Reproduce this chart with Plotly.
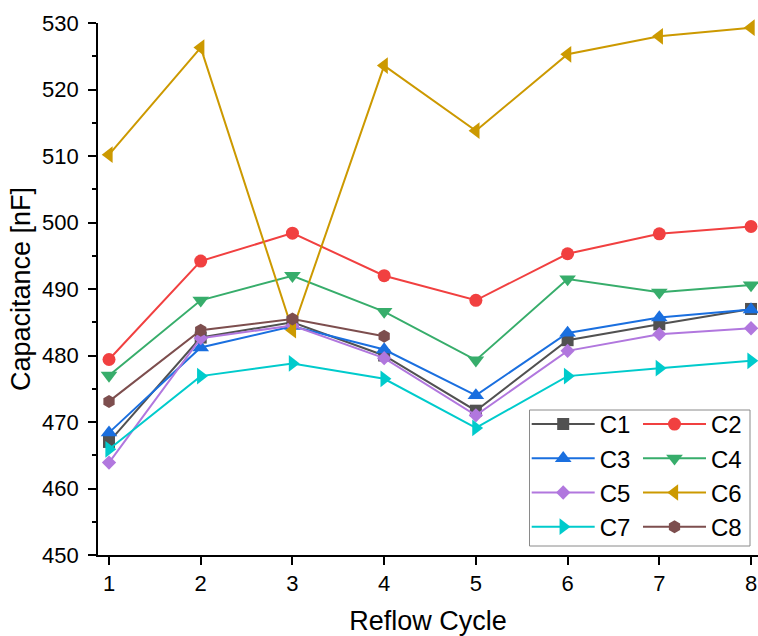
import plotly.graph_objects as go

cycles = [1, 2, 3, 4, 5, 6, 7, 8]
C1 = [467.0, 482.7, 485.0, 480.0, 471.7, 482.3, 484.7, 487.0]
C2 = [479.4, 494.2, 498.4, 492.0, 488.3, 495.3, 498.3, 499.4]
C3 = [468.4, 481.2, 484.4, 480.9, 474.0, 483.4, 485.7, 486.9]
C4 = [477.0, 488.3, 492.0, 486.6, 479.3, 491.5, 489.5, 490.6]
C5 = [463.9, 482.6, 484.5, 479.6, 471.0, 480.7, 483.2, 484.1]
C6 = [510.2, 526.3, 483.8, 523.6, 513.8, 525.3, 528.0, 529.3]
C7 = [465.9, 476.9, 478.8, 476.5, 469.1, 476.9, 478.1, 479.2]
C8 = [473.1, 483.8, 485.5, 482.9]
cycles_c8 = [1, 2, 3, 4]

series = [
    ("C1", cycles, C1, "#515151", "square", 12, "legend"),
    ("C2", cycles, C2, "#F14040", "circle", 13, "legend2"),
    ("C3", cycles, C3, "#1A6FDF", "triangle-up", 14.5, "legend"),
    ("C4", cycles, C4, "#37AD6B", "triangle-down", 14.5, "legend2"),
    ("C5", cycles, C5, "#B177DE", "diamond", 11, "legend"),
    ("C6", cycles, C6, "#CC9900", "triangle-left", 14.5, "legend2"),
    ("C7", cycles, C7, "#00CBCC", "triangle-right", 14.5, "legend"),
    ("C8", cycles_c8, C8, "#7D4E4E", "hexagon", 13, "legend2"),
]

fig = go.Figure()
for name, xs, ys, color, sym, msize, leg in series:
    fig.add_trace(go.Scatter(
        x=xs, y=ys, name=name, mode="lines+markers",
        line=dict(color=color, width=2),
        marker=dict(symbol=sym, size=msize, color=color, line=dict(width=0)),
        cliponaxis=False, legend=leg,
    ))

W, H = 758, 636
L, R, T, B = 98, 0, 23, 81
pw, ph = W - L - R, H - T - B

def px(xp):
    return (xp - L) / pw

def py(yp):
    return (H - B - yp) / ph

font = "Liberation Sans, Arial, sans-serif"
legend_common = dict(
    orientation="v", bgcolor="rgba(0,0,0,0)", borderwidth=0,
    font=dict(family=font, size=24, color="black"),
    xanchor="left", yanchor="top", tracegroupgap=0, itemwidth=63,
)

fig.update_layout(
    width=W, height=H,
    margin=dict(l=L, r=R, t=T, b=B),
    paper_bgcolor="white", plot_bgcolor="white",
    font=dict(family=font, color="black"),
    legend=dict(x=px(526.7), y=py(402), **legend_common),
    legend2=dict(x=px(638), y=py(402), **legend_common),
    shapes=[dict(type="rect", xref="paper", yref="paper",
                 x0=px(529.5), x1=px(750), y0=py(546), y1=py(410),
                 line=dict(color="#8a8a8a", width=1))],
)

fig.update_xaxes(
    range=[0.88, 8.076], tickvals=cycles, ticktext=[str(c) for c in cycles],
    showgrid=False, zeroline=False, showline=True, linecolor="black", linewidth=1.8,
    ticks="outside", ticklen=8, tickwidth=1.5, tickcolor="black",
    tickfont=dict(family=font, size=22, color="black"),
    title=dict(text="Reflow Cycle", font=dict(family=font, size=27, color="black"), standoff=18),
    automargin=False,
)
fig.update_yaxes(
    range=[450, 530], tickvals=[450, 460, 470, 480, 490, 500, 510, 520, 530],
    showgrid=False, zeroline=False, showline=True, linecolor="black", linewidth=1.8,
    ticks="outside", ticklen=8, tickwidth=1.5, tickcolor="black",
    minor=dict(dtick=5, ticks="outside", ticklen=4, tickwidth=1.5, tickcolor="black", showgrid=False),
    tickfont=dict(family=font, size=22, color="black"),
    ticklabelstandoff=5,
    title=dict(text="Capacitance [nF]", font=dict(family=font, size=27, color="black"), standoff=4),
    automargin=False,
)

fig.write_html("out.html")
